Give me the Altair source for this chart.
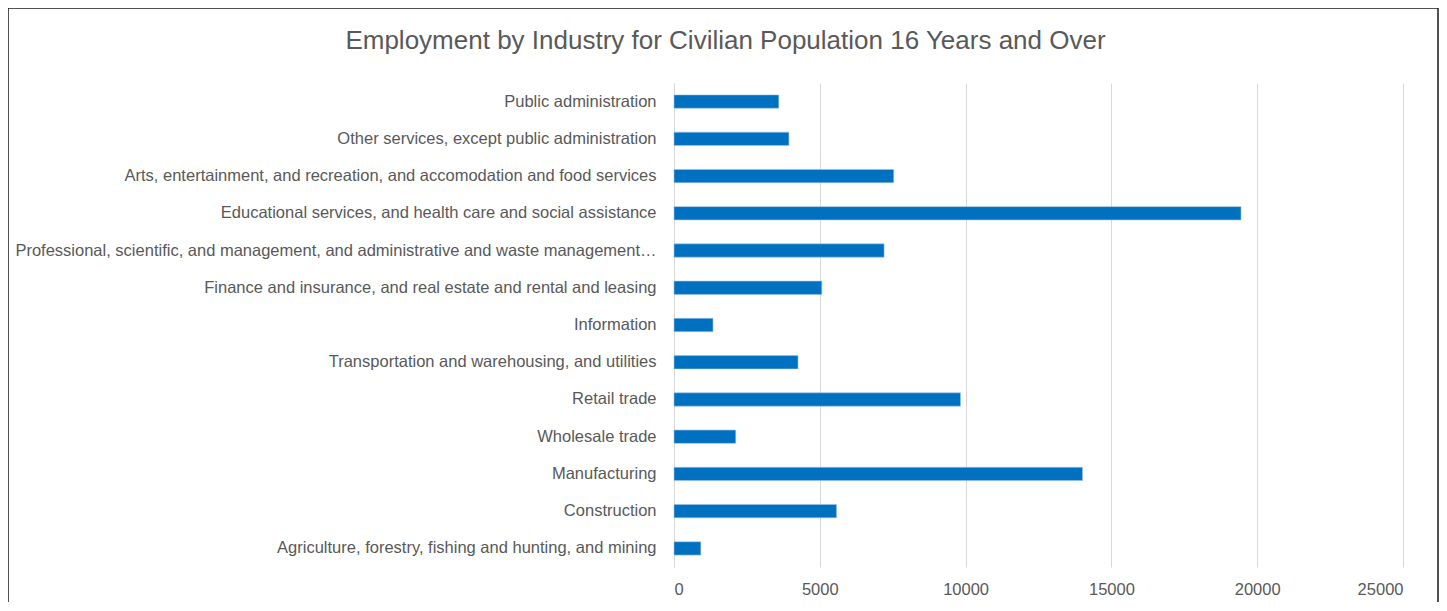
import altair as alt
import pandas as pd

industries = [
    "Public administration",
    "Other services, except public administration",
    "Arts, entertainment, and recreation, and accomodation and food services",
    "Educational services, and health care and social assistance",
    "Professional, scientific, and management, and administrative and waste management services",
    "Finance and insurance, and real estate and rental and leasing",
    "Information",
    "Transportation and warehousing, and utilities",
    "Retail trade",
    "Wholesale trade",
    "Manufacturing",
    "Construction",
    "Agriculture, forestry, fishing and hunting, and mining",
]
employed = [3594, 3941, 7535, 19444, 7205, 5069, 1337, 4253, 9826, 2118, 14010, 5573, 920]
x_ticks = [0, 5000, 10000, 15000, 20000, 25000]

df = pd.DataFrame({"industry": industries, "employed": employed})

FONT = "Liberation Sans"
GREY = "#595959"

bars = (
    alt.Chart(df)
    .mark_bar(color="#0070C0", stroke="#9DC3E6", strokeWidth=0.6)
    .encode(
        x=alt.X(
            "employed:Q",
            scale=alt.Scale(domain=[0, 25000], nice=False),
            axis=alt.Axis(
                values=x_ticks,
                title=None,
                grid=True,
                gridColor="#D9D9D9",
                gridWidth=1,
                domain=False,
                ticks=False,
                labelFont=FONT,
                labelFontSize=16.5,
                labelColor=GREY,
                labelPadding=14,
                format="d",
            ),
        ),
        y=alt.Y(
            "industry:N",
            sort=industries,
            scale=alt.Scale(paddingInner=0.643, paddingOuter=0.32),
            axis=alt.Axis(
                title=None,
                domain=True,
                domainColor="#D9D9D9",
                domainWidth=1,
                ticks=False,
                labelFont=FONT,
                labelFontSize=16.5,
                labelColor=GREY,
                labelPadding=18,
                labelLimit=642,
            ),
        ),
    )
)

# chart frame (decorative border around the whole chart)
frame = (
    alt.Chart(pd.DataFrame({"f": [0]}))
    .mark_rect(fill=None, stroke="#1a1a1a", strokeWidth=1.5)
    .encode(
        x=alt.value(-666),
        x2=alt.value(764),
        y=alt.value(-75),
        y2=alt.value(700),
    )
)

chart = (
    alt.layer(bars, frame)
    .properties(
        width=729,
        height=484,
        autosize=alt.AutoSizeParams(type="none"),
        padding={"left": 666, "top": 75, "right": 36, "bottom": 35},
        title=alt.TitleParams(
            "Employment by Industry for Civilian Population 16 Years and Over",
            font=FONT,
            fontSize=26,
            fontWeight="normal",
            color=GREY,
            anchor="middle",
            frame="group",
            dx=-313,
            dy=76,
            offset=29,
        ),
    )
    .configure_view(stroke=None)
)

chart.save("out.html", embed_options={"renderer": "svg", "actions": False})
